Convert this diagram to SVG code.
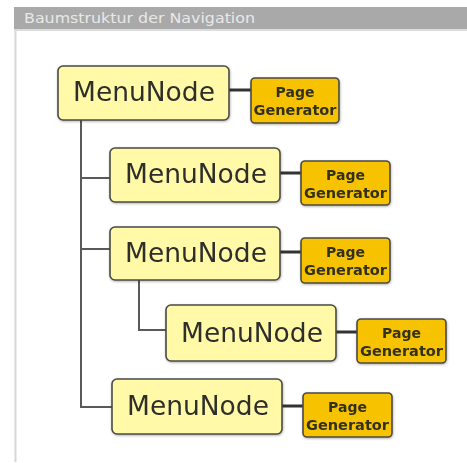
<svg xmlns="http://www.w3.org/2000/svg" width="467" height="463" viewBox="0 0 467 463">
<style>
.mn rect{fill:#fff9a8;stroke:#4a4a44;stroke-width:1.6}
.mn text{font-family:"DejaVu Sans",Verdana,sans-serif;font-size:26.5px;fill:#2e2e2a;text-anchor:middle}
.pg rect{fill:#f7c200;stroke:#4a4a44;stroke-width:1.6}
.pg text{font-family:"DejaVu Sans",Verdana,sans-serif;font-weight:bold;font-size:14px;fill:#33301c;text-anchor:middle}
.tree{stroke:#5a5a5a;stroke-width:2;fill:none}
.link{stroke:#333;stroke-width:3;fill:none}
</style>
<defs>
<filter id="sh" x="-10%" y="-10%" width="120%" height="130%"><feDropShadow dx="0.5" dy="1" stdDeviation="0.8" flood-color="#000" flood-opacity="0.3"/></filter>
</defs>
<rect width="467" height="463" fill="#fff"/>
<rect x="14" y="7" width="453" height="23" fill="#a9a9a9"/>
<rect x="14" y="29" width="453" height="2" fill="#dcdcdc"/>
<line x1="15.5" y1="31" x2="15.5" y2="462" stroke="#d6d6d6" stroke-width="2"/>
<text x="24" y="22.5" font-family="'DejaVu Sans',Verdana,sans-serif" font-size="14" fill="#e8e8e8" textLength="231" lengthAdjust="spacingAndGlyphs">Baumstruktur der Navigation</text>
<g id="connectors">
<path class="tree" d="M81,120 V407 H112 M81,178 H110 M81,249 H110 M139,280 V330 H166"/>
<path class="link" d="M229,90 H251 M280,173 H301 M280,252 H301 M336,332 H357 M282,406 H303"/>
</g>
<g id="n1" class="mn" filter="url(#sh)"><rect x="58" y="66" width="171" height="54" rx="5"/><text x="144" y="101">MenuNode</text></g>
<g id="p1" class="pg" filter="url(#sh)"><rect x="251" y="78" width="88" height="45" rx="4"/><text x="295" y="97">Page</text><text x="295" y="115" textLength="83" lengthAdjust="spacingAndGlyphs">Generator</text></g>
<g id="n2" class="mn" filter="url(#sh)"><rect x="110" y="148" width="170" height="54" rx="5"/><text x="196" y="183">MenuNode</text></g>
<g id="p2" class="pg" filter="url(#sh)"><rect x="301" y="161" width="89" height="44" rx="4"/><text x="345.5" y="180">Page</text><text x="345.5" y="198" textLength="83" lengthAdjust="spacingAndGlyphs">Generator</text></g>
<g id="n3" class="mn" filter="url(#sh)"><rect x="110" y="227" width="170" height="53" rx="5"/><text x="196" y="262">MenuNode</text></g>
<g id="p3" class="pg" filter="url(#sh)"><rect x="301" y="238" width="89" height="45" rx="4"/><text x="345.5" y="257">Page</text><text x="345.5" y="275" textLength="83" lengthAdjust="spacingAndGlyphs">Generator</text></g>
<g id="n4" class="mn" filter="url(#sh)"><rect x="166" y="305" width="170" height="56" rx="5"/><text x="252" y="342">MenuNode</text></g>
<g id="p4" class="pg" filter="url(#sh)"><rect x="357" y="319" width="89" height="44" rx="4"/><text x="401.5" y="338">Page</text><text x="401.5" y="356" textLength="83" lengthAdjust="spacingAndGlyphs">Generator</text></g>
<g id="n5" class="mn" filter="url(#sh)"><rect x="112" y="379" width="170" height="55" rx="5"/><text x="198" y="415">MenuNode</text></g>
<g id="p5" class="pg" filter="url(#sh)"><rect x="303" y="393" width="89" height="44" rx="4"/><text x="347.5" y="412">Page</text><text x="347.5" y="430" textLength="83" lengthAdjust="spacingAndGlyphs">Generator</text></g>
</svg>
